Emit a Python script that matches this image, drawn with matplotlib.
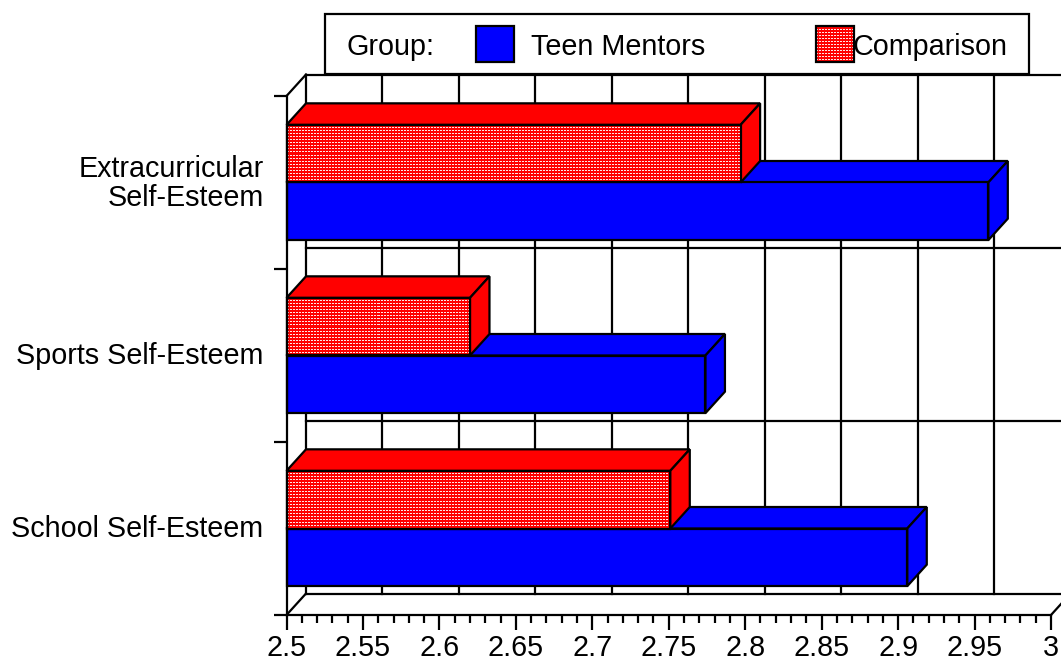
#!/usr/bin/env python3
"""Pseudo-3D horizontal bars: self-esteem scores, Teen Mentors vs Comparison."""

import matplotlib
matplotlib.use("Agg")
import matplotlib.pyplot as plt
import numpy as np
from matplotlib.patches import Polygon, Rectangle
from matplotlib.ticker import MultipleLocator

plt.rcParams["font.family"] = ["Liberation Sans", "DejaVu Sans"]

categories = ["School Self-Esteem", "Sports Self-Esteem", "Extracurricular\nSelf-Esteem"]
teen_mentors = [2.906, 2.774, 2.959]
comparison = [2.751, 2.620, 2.797]
xticks = [2.5, 2.55, 2.6, 2.65, 2.7, 2.75, 2.8, 2.85, 2.9, 2.95, 3]
xticklabels = ["2.5", "2.55", "2.6", "2.65", "2.7", "2.75", "2.8", "2.85", "2.9", "2.95", "3"]
label_y = [0.512, 1.512, 2.512]

W, H = 1061, 660
LW = 1.6
FS = 20.7
BLUE = "#0000ff"
RED = "#ff0000"

fig = plt.figure(figsize=(W / 100, H / 100), dpi=100)
# axes covers the front plane of the box
left, right, top, bottom = 286.5, 1051, 96, 615
ax = fig.add_axes([left / W, 1 - bottom / H, (right - left) / W, (bottom - top) / H])
ax.set_xlim(2.5, 3)
ax.set_ylim(0, 3)
ax.patch.set_visible(False)

# depth of the box in data units
dx = 19.5 / (right - left) * 0.5
dy = 21.5 / (bottom - top) * 3
bar_h = 1 / 3


def line(xs, ys):
    ax.plot(xs, ys, color="black", lw=LW, clip_on=False, solid_capstyle="projecting", zorder=1)


def texture(nx, ny):
    # red fill with rows of small white dashes, 3 px repeat
    tile = np.array([[1, 1, 0], [0, 0, 0], [0, 0, 0]])
    mask = np.tile(tile, (ny // 3 + 1, nx // 3 + 1))[:ny, :nx]
    img = np.zeros((ny, nx, 3))
    img[..., 0] = 1.0
    img[..., 1] = mask * 0.9
    img[..., 2] = mask * 0.9
    return img


# back wall and floor
line([2.5 + dx, 2.5 + dx], [dy, 3 + dy])
for y in range(4):
    line([2.5 + dx, 3 + dx], [y + dy, y + dy])
for x in xticks[1:-1]:
    line([x + dx, x + dx], [dy, 3 + dy])
line([2.5, 2.5 + dx], [0, dy])
line([2.5, 2.5 + dx], [3, 3 + dy])
line([3, 3 + dx], [0, dy])


def bar3d(value, y0, color, hatched=False):
    x0 = 2.5
    y1 = y0 + bar_h
    kw = dict(edgecolor="black", lw=LW, clip_on=False, joinstyle="miter", zorder=3)
    ax.add_patch(Polygon([(x0, y1), (value, y1), (value + dx, y1 + dy), (x0 + dx, y1 + dy)],
                         facecolor=color, **kw))
    ax.add_patch(Polygon([(value, y0), (value + dx, y0 + dy), (value + dx, y1 + dy), (value, y1)],
                         facecolor=color, **kw))
    if hatched:
        nx = int((value - x0) / 0.5 * (right - left))
        ny = int(bar_h / 3 * (bottom - top))
        ax.imshow(texture(nx, ny), extent=(x0, value, y0, y1), aspect="auto",
                  interpolation="nearest", zorder=3)
        ax.add_patch(Rectangle((x0, y0), value - x0, bar_h, facecolor="none", **kw))
    else:
        ax.add_patch(Rectangle((x0, y0), value - x0, bar_h, facecolor=color, **kw))


for i in range(len(categories)):
    bar3d(teen_mentors[i], i + 0.5 - bar_h, BLUE)
    bar3d(comparison[i], i + 0.5, RED, hatched=True)

# axes
for side in ["top", "right"]:
    ax.spines[side].set_visible(False)
for side in ["left", "bottom"]:
    ax.spines[side].set_linewidth(LW)
    ax.spines[side].set_zorder(4)
ax.set_xticks(xticks)
ax.set_xticklabels(xticklabels, fontsize=FS)
ax.xaxis.set_minor_locator(MultipleLocator(0.01))
ax.tick_params(axis="x", which="major", length=11, width=LW, pad=2.5)
ax.tick_params(axis="x", which="minor", length=5.8, width=LW)
ax.set_yticks([0, 1, 2, 3])
ax.set_yticklabels([])
ax.tick_params(axis="y", which="major", length=9.4, width=LW)
ax.set_yticks(label_y, minor=True)
ax.set_yticklabels(categories, minor=True, fontsize=FS, ha="right", linespacing=1.02)
ax.tick_params(axis="y", which="minor", length=0, pad=16.5)

# legend box, in a full figure axes so it can sit in pixels
lg = fig.add_axes([0, 0, 1, 1])
lg.set_xlim(0, W)
lg.set_ylim(H, 0)
lg.axis("off")
lg.add_patch(Rectangle((325, 13.5), 704, 60.5, facecolor="white", edgecolor="black", lw=LW, zorder=1))
lg.add_patch(Rectangle((476, 26), 38, 36, facecolor=BLUE, edgecolor="black", lw=LW, zorder=2))
lg.imshow(texture(38, 36), extent=(816, 854, 62, 26), aspect="auto", interpolation="nearest", zorder=2)
lg.set_xlim(0, W)
lg.set_ylim(H, 0)
lg.add_patch(Rectangle((816, 26), 37.5, 36, facecolor="none", edgecolor="black", lw=LW, zorder=3))
lg.text(347, 44, "Group:", fontsize=FS, va="center_baseline")
lg.text(531, 44, "Teen Mentors", fontsize=FS, va="center_baseline")
lg.text(853, 44, "Comparison", fontsize=FS, va="center_baseline")

fig.savefig("out.png", dpi=100)
